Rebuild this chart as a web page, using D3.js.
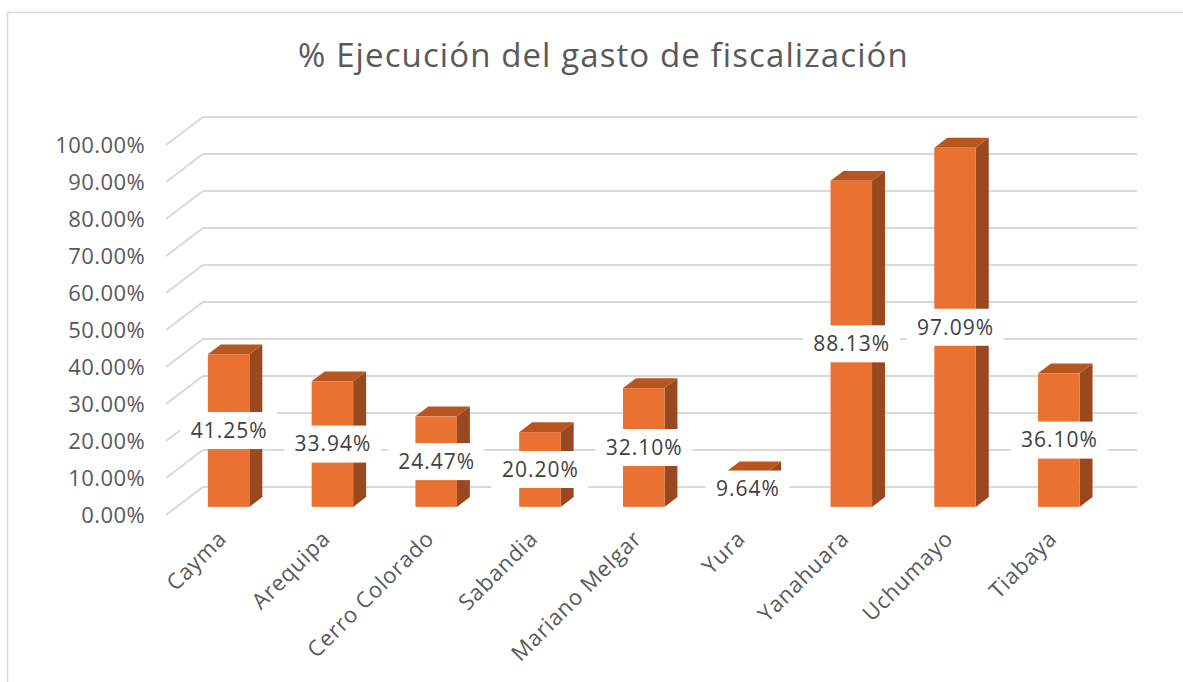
<!DOCTYPE html>
<html><head><meta charset="utf-8">
<script src="https://cdn.jsdelivr.net/npm/d3@7"></script>
<style>body{margin:0;background:#fff}svg{display:block}</style>
</head><body>
<svg id="c" width="1183" height="682"></svg>
<script>
const title = "% Ejecución del gasto de fiscalización";
const categories = ["Cayma","Arequipa","Cerro Colorado","Sabandia","Mariano Melgar","Yura","Yanahuara","Uchumayo","Tiabaya"];
const values = [41.25, 33.94, 24.47, 20.20, 32.10, 9.64, 88.13, 97.09, 36.10];
const yTicks = [0,10,20,30,40,50,60,70,80,90,100];

const svg = d3.select("#c");
const FONT = "'Open Sans', 'Liberation Sans', sans-serif";
const TXT = "#595959";
const GRID = "#d9d9d9";

// 3D projection parameters
const DX = 37, DY = 28;      // full depth offset
const Z0 = 0.29, Z1 = 0.64;  // bar depth span

const x = d3.scaleBand().domain(categories).range([166, 1100]).paddingInner(0).paddingOuter(0);
const y = d3.scaleLinear().domain([0, 100]).range([515, 145]);
const barW = x.bandwidth() * 0.4;

// border
svg.append("rect").attr("x", 7.5).attr("y", 12.5).attr("width", 1200).attr("height", 700)
  .attr("fill", "#fff").attr("stroke", GRID).attr("stroke-width", 1.5);

// title
svg.append("text").attr("x", 603.5).attr("y", 67).attr("text-anchor", "middle")
  .attr("font-family", FONT).attr("font-size", 33).attr("letter-spacing", 1.1).attr("fill", TXT).text(title);

// gridlines (left wall diagonal + back wall)
const grid = svg.append("g");
yTicks.forEach(t => {
  const yf = y(t);
  grid.append("path")
    .attr("d", `M${x.range()[0]},${yf} L${x.range()[0] + DX},${yf - DY} L${x.range()[1] + DX},${yf - DY}`)
    .attr("fill", "none").attr("stroke", GRID).attr("stroke-width", 2);
});

// y labels
svg.append("g").selectAll("text").data(yTicks).join("text")
  .attr("x", 145).attr("y", d => y(d)).attr("dy", "0.35em").attr("text-anchor", "end")
  .attr("font-family", FONT).attr("font-size", 22).attr("letter-spacing", 0.4).attr("fill", TXT)
  .text(d => d.toFixed(2) + "%");

// bars
const d = DX * (Z1 - Z0), e = DY * (Z1 - Z0);
const bars = svg.append("g").selectAll("g").data(categories.map((c, i) => ({c, v: values[i]}))).join("g");
bars.each(function(b) {
  const g = d3.select(this);
  const x0 = x(b.c) + (x.bandwidth() - barW) / 2 + DX * Z0;
  const x1 = x0 + barW;
  const yb = y(0) - DY * Z0;
  const yt = y(b.v) - DY * Z0;
  g.append("polygon").attr("points", `${x1},${yt} ${x1 + d},${yt - e} ${x1 + d},${yb - e} ${x1},${yb}`)
    .attr("fill", "#9A4820");
  g.append("polygon").attr("points", `${x0},${yt} ${x0 + d},${yt - e} ${x1 + d},${yt - e} ${x1},${yt}`)
    .attr("fill", "#B8561F");
  g.append("rect").attr("x", x0).attr("y", yt).attr("width", barW).attr("height", yb - yt)
    .attr("fill", "#E97132");
  b.cx = (x0 + x1) / 2; b.cy = (yt + yb) / 2;
});

// data labels
bars.each(function(b) {
  const g = d3.select(this);
  const t = g.append("text").attr("x", b.cx + 0.5).attr("y", b.cy).attr("dy", "0.35em")
    .attr("text-anchor", "middle").attr("font-family", FONT).attr("font-size", 21).attr("letter-spacing", 1)
    .attr("fill", "#404040")
    .text(b.v.toFixed(2) + "%");
  const w = t.node().getComputedTextLength();
  g.insert("rect", "text").attr("x", b.cx - w / 2 - 10).attr("y", b.cy - 18.5)
    .attr("width", w + 20).attr("height", 37).attr("fill", "#fff");
});

// category labels
svg.append("g").selectAll("text").data(categories).join("text")
  .attr("transform", c => `translate(${x(c) + x.bandwidth() / 2 + 10},${540}) rotate(-45)`)
  .attr("text-anchor", "end").attr("font-family", FONT).attr("font-size", 22).attr("letter-spacing", 0.8)
  .attr("fill", TXT)
  .text(c => c);
</script>
</body></html>
